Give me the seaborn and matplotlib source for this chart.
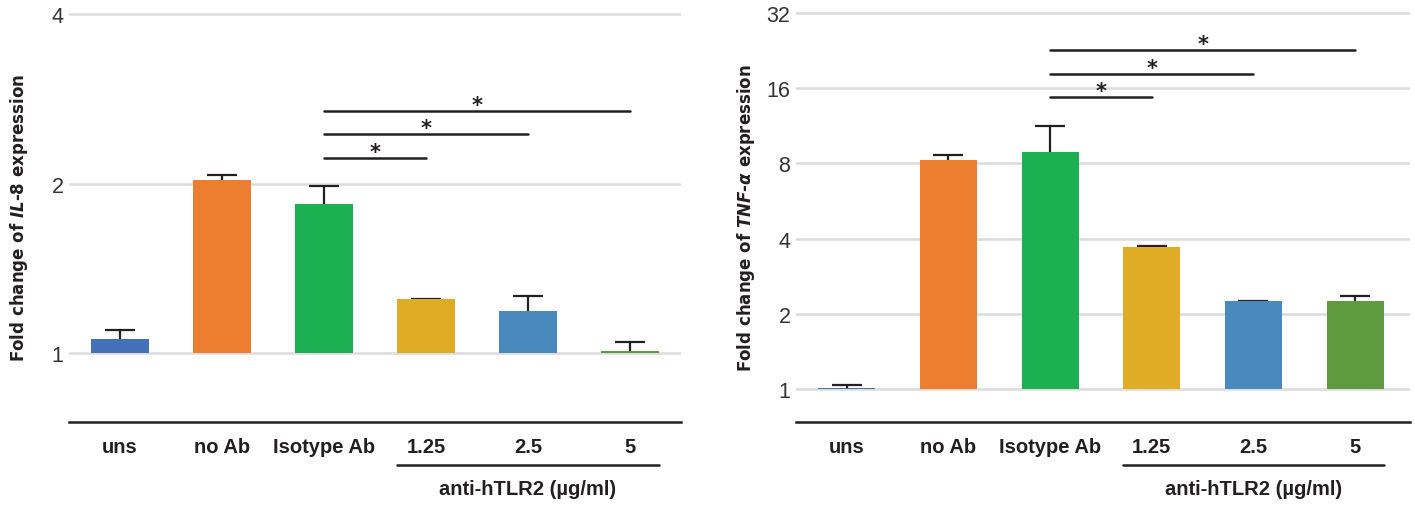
import numpy as np
import seaborn as sns
import matplotlib.pyplot as plt
from matplotlib.ticker import NullLocator

groups = ['uns', 'no Ab', 'Isotype Ab', '1.25', '2.5', '5']
colors = ['#4270b9', '#ec7e2f', '#1db053', '#e1ac25', '#4a89bd', '#5f9a41']

# fold change (mean) and upper error
il8_mean = [1.06, 2.03, 1.84, 1.25, 1.19, 1.009]
il8_err = [0.04, 0.045, 0.14, 0.0, 0.075, 0.038]
tnf_mean = [1.01, 8.25, 8.9, 3.70, 2.25, 2.25]
tnf_err = [0.03, 0.40, 2.35, 0.03, 0.0, 0.10]

# significance brackets: (from, to, height)
il8_sig = [(2, 3, 2.22), (2, 4, 2.45), (2, 5, 2.69)]
tnf_sig = [(2, 3, 14.7), (2, 4, 18.3), (2, 5, 22.7)]

sns.set_style('white')
plt.rcParams['font.family'] = ['Liberation Sans', 'DejaVu Sans']
plt.rcParams['mathtext.fontset'] = 'custom'
plt.rcParams['mathtext.it'] = 'DejaVu Sans:italic:bold'
plt.rcParams['mathtext.rm'] = 'DejaVu Sans:bold'

fig = plt.figure(figsize=(14.15, 5.06), dpi=100)
ax1 = fig.add_axes([69 / 1415, 83 / 506, 612 / 1415, 410 / 506])
ax2 = fig.add_axes([796 / 1415, 83 / 506, 614 / 1415, 410 / 506])


def draw_panel(ax, means, errs, sig, ticks, ylim, ylabel, xmax):
    sns.barplot(x=groups, y=means, hue=groups, palette=colors, width=0.56,
                saturation=1, legend=False, ax=ax, linewidth=0)
    # bars start at fold change 1
    for p in ax.patches:
        top = p.get_y() + p.get_height()
        p.set_y(1)
        p.set_height(top - 1)
        p.set_zorder(3)
    eb = ax.errorbar(range(len(groups)), means, yerr=[np.zeros(len(errs)), errs],
                     fmt='none', ecolor='#231f20', elinewidth=1.6, capsize=10.5,
                     capthick=1.6, zorder=2)
    # only the upper caps are shown
    for cap in eb[1]:
        if np.allclose(cap.get_ydata(), means):
            cap.set_visible(False)
    ax.set_yscale('log', base=2)
    ax.set_yticks(ticks, labels=[str(t) for t in ticks])
    ax.yaxis.set_minor_locator(NullLocator())
    ax.set_ylim(*ylim)
    ax.set_xlim(-0.5, xmax)
    ax.grid(axis='y', color='#dcdcdc', lw=1.8, zorder=0)
    ax.set_axisbelow(True)
    for s in ['top', 'left', 'right']:
        ax.spines[s].set_visible(False)
    ax.spines['bottom'].set_color('#231f20')
    ax.spines['bottom'].set_linewidth(1.8)
    ax.tick_params(axis='y', length=0, pad=4, labelsize=15.5, labelcolor='#333333')
    ax.tick_params(axis='x', length=0, pad=11, labelsize=14.5, labelcolor='#231f20')
    for lab in ax.get_xticklabels():
        lab.set_fontweight('bold')
    ax.set_xlabel('')
    ax.set_ylabel(ylabel, fontsize=12, fontweight='bold', family='DejaVu Sans',
                  color='#231f20')
    ax.yaxis.set_label_coords(-0.063, 0.5)

    for a, b, h in sig:
        ax.plot([a, b], [h, h], color='#231f20', lw=1.8, zorder=4)
        ax.annotate('*', xy=((a + b) / 2, h), xytext=(0, -2.8),
                    textcoords='offset points', ha='center', va='bottom',
                    fontsize=15, fontweight='bold', family='DejaVu Sans',
                    color='#231f20')

    # group line under the antibody doses
    tr = ax.get_xaxis_transform()
    ax.plot([2.72, 5.28], [-0.105, -0.105], transform=tr, clip_on=False,
            color='#231f20', lw=1.8)
    ax.text(4, -0.163, 'anti-hTLR2 (µg/ml)', transform=tr, ha='center',
            va='center', fontsize=14.5, fontweight='bold', color='#231f20')


draw_panel(ax1, il8_mean, il8_err, il8_sig, [1, 2, 4], (0.755, 4.03),
           r'Fold change of $\it{IL}$-$\it{8}$ expression', 5.5)
draw_panel(ax2, tnf_mean, tnf_err, tnf_sig, [1, 2, 4, 8, 16, 32], (0.737, 32.3),
           r'Fold change of $\it{TNF}$-$\it{α}$ expression', 5.54)

plt.savefig('out.png', dpi=100)
